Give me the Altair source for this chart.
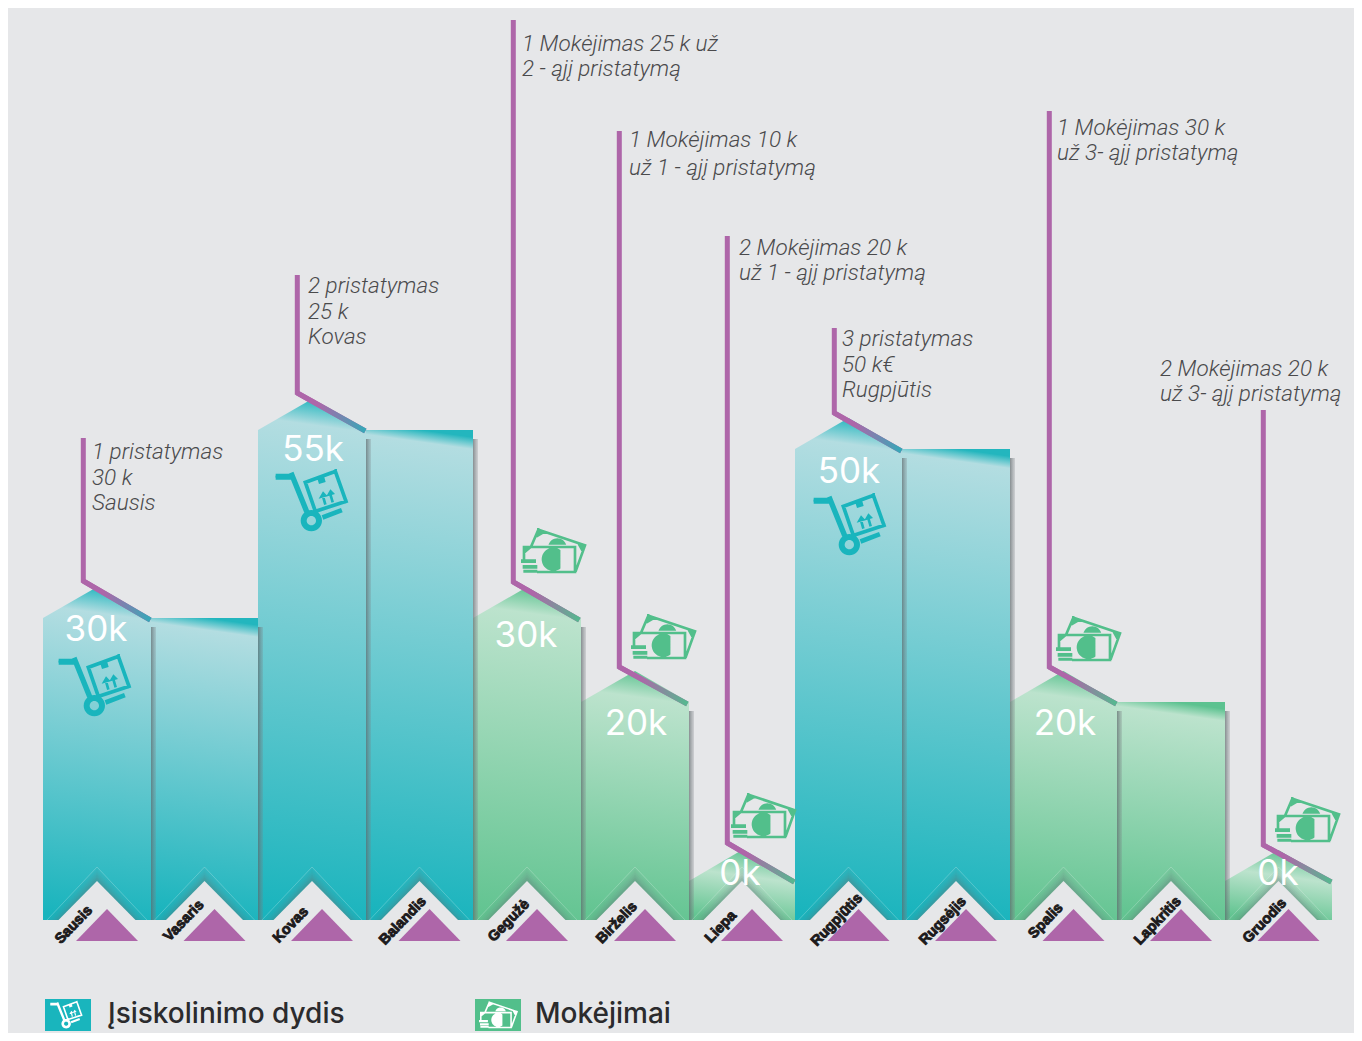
import math
import altair as alt
import pandas as pd

# ---- values ----
months = ["Sausis", "Vasaris", "Kovas", "Balandis", "Gegužė", "Birželis", "Liepa",
          "Rugpjūtis", "Rugsėjis", "Spalis", "Lapkritis", "Gruodis"]
# drawn column heights above the base line
heights = [302, 302, 490, 490, 302, 218, 39, 471, 471, 218, 218, 39]
has_peak = [True, False, True, False, True, True, True, True, False, True, False, True]
family = ["debt", "debt", "debt", "debt", "pay", "pay", "pay", "debt", "debt", "pay", "pay", "pay"]
edges_px = [43, 151, 258, 366, 473, 581, 689, 795, 902, 1010, 1117, 1225, 1332]
peak_rise = 31
labels = ["30k", "55k", "30k", "20k", "0k", "50k", "20k", "0k"]
label_px = [(96, 630), (313, 450), (526, 636), (636, 724), (740, 874), (849, 472), (1065, 724), (1278, 874)]
# callout leaders: x, top, bend, end x, end y, family
leaders = [(84, 438, 581, 151, 620, "debt"), (298, 275, 393, 366, 431, "debt"),
           (514, 20, 582, 580, 620, "pay"), (620, 131, 667, 688, 704, "pay"),
           (728, 236, 843, 795, 882, "pay"), (835, 328, 413, 902, 451, "debt"),
           (1050, 111, 667, 1117, 704, "pay"), (1264, 410, 845, 1332, 882, "pay")]
notes = [(92, 452, "1 pristatymas"), (92, 478, "30 k"), (92, 503, "Sausis"),
         (308, 286, "2 pristatymas"), (308, 312, "25 k"), (308, 337, "Kovas"),
         (522, 44, "1 Mokėjimas 25 k už"), (522, 69, "2 - ąjį pristatymą"),
         (629, 140, "1 Mokėjimas 10 k"), (629, 168, "už 1 - ąjį pristatymą"),
         (739, 248, "2 Mokėjimas 20 k"), (739, 273, "už 1 - ąjį pristatymą"),
         (842, 339, "3 pristatymas"), (842, 365, "50 k€"), (842, 390, "Rugpjūtis"),
         (1057, 128, "1 Mokėjimas 30 k"), (1057, 153, "už 3- ąjį pristatymą"),
         (1160, 369, "2 Mokėjimas 20 k"), (1160, 394, "už 3- ąjį pristatymą")]
month_label_px = [(74, 925), (184, 921), (291, 925), (403, 921), (509, 921), (617, 923),
                  (721, 927), (837, 920), (943, 921), (1046, 921), (1158, 921), (1265, 921)]
cart_px = [(94, 686), (311, 501), (849, 525)]
money_px = [(553, 551), (663, 637), (763, 816), (1088, 639), (1307, 820)]
legend_names = ["Įsiskolinimo dydis", "Mokėjimai"]

# ---- styles ----
BG = "#e6e7e9"
PURPLE = "#ae66a9"
TEAL = "#19b5bd"
GREEN = "#52bf8b"
PAL = {"debt": ("#23b6be", "#b3dde1", "#19b4bd"), "pay": ("#5cc290", "#bce3cd", "#62c491")}
END = {"debt": "#35a9b8", "pay": "#55b98f"}
BASE_PX = 920
CW = 1346
CH = 1025
X = alt.X("x:Q", scale=alt.Scale(domain=[8, 8 + CW], range=[0, CW], nice=False), axis=None)
Y = alt.Y("y:Q", scale=alt.Scale(domain=[920 - 8 - CH, 920 - 8], range=[CH, 0], nice=False), axis=None)
Y2 = alt.Y2("y2:Q")
X2 = alt.X2("x2:Q")


def h(py):
    return BASE_PX - py


layers = []


def column_gradient(fam, height, depth, width):
    dark, light, bottom = PAL[fam]
    dx = 0.14 * width / height
    return alt.Gradient(gradient="linear", x1=0.5 + dx / 2, x2=0.5 - dx / 2, y1=0, y2=1,
                        stops=[alt.GradientStop(offset=0, color=dark),
                               alt.GradientStop(offset=depth / height, color=light),
                               alt.GradientStop(offset=1, color=bottom)])


# columns
for i, m in enumerate(months):
    l, r = edges_px[i], edges_px[i + 1]
    top = heights[i]
    peak = top + peak_rise if has_peak[i] else top
    df = pd.DataFrame({"x": [l, (l + r) / 2, r], "y": [top, peak, top], "y2": [0, 0, 0]})
    g = column_gradient(family[i], peak, 26 if has_peak[i] else 12, r - l)
    layers.append(alt.Chart(df).mark_area(fill=g, line=False).encode(x=X, y=Y, y2=Y2))

# shadows between columns
for i in range(11):
    if i == 6:
        continue
    r = edges_px[i + 1]
    top = heights[i] - 9
    df = pd.DataFrame({"x": [r], "x2": [r + 5], "y": [top], "y2": [0]})
    g = alt.Gradient(gradient="linear", x1=0, x2=1, y1=0, y2=0,
                     stops=[alt.GradientStop(offset=0, color="rgba(95,105,108,0.7)"),
                            alt.GradientStop(offset=1, color="rgba(120,125,130,0.22)")])
    layers.append(alt.Chart(df).mark_rect(fill=g).encode(x=X, x2=X2, y=Y, y2=Y2))


def triangles(half, apex, cx_shift=0, floor=0):
    rows = []
    for i in range(12):
        c = (edges_px[i] + edges_px[i + 1]) / 2 + cx_shift
        for px, py in [(c - half, floor), (c, apex), (c + half, floor)]:
            rows.append({"k": i, "x": px, "y": py, "y2": floor})
    return pd.DataFrame(rows)


# soft chevrons above the notch
for half, apex, op in [(50, 53, 0.05), (47, 50, 0.06), (44.5, 47.5, 0.08), (42, 45, 0.1), (40, 42.5, 0.14)]:
    layers.append(alt.Chart(triangles(half, apex)).mark_area(color="#66757a", opacity=op, line=False)
                  .encode(x=X, y=Y, y2=Y2, detail="k:N"))
layers.append(alt.Chart(triangles(50, 53)).mark_line(color="#ffffff", opacity=0.22, strokeWidth=1)
              .encode(x=X, y=Y, detail="k:N"))
# background notch
layers.append(alt.Chart(triangles(38.5, 39)).mark_area(color=BG, line=False)
              .encode(x=X, y=Y, y2=Y2, detail="k:N"))
# purple month markers
layers.append(alt.Chart(triangles(31, 11, cx_shift=10, floor=-21)).mark_area(color=PURPLE, line=False)
              .encode(x=X, y=Y, y2=Y2, detail="k:N"))

# month names
df = pd.DataFrame({"t": months, "x": [p[0] for p in month_label_px], "y": [h(p[1]) for p in month_label_px]})
layers.append(alt.Chart(df).mark_text(font="Liberation Sans", fontWeight="bold", fontSize=14.5,
                                      angle=314, color="#1c1a1b", stroke="#1c1a1b", strokeWidth=0.9,
                                      align="center", baseline="middle")
              .encode(x=X, y=Y, text="t:N"))

# leaders
rows = []
for k, (lx, top, bend, ex, ey, fam) in enumerate(leaders):
    for s, (px, py) in enumerate([(lx, top), (lx, bend), (ex, ey)]):
        rows.append({"k": k, "s": s, "x": px - 0.7, "y": h(py)})
layers.append(alt.Chart(pd.DataFrame(rows)).mark_line(color=PURPLE, strokeWidth=5, strokeJoin="miter", strokeCap="butt")
              .encode(x=X, y=Y, detail="k:N", order="s:Q"))
for lx, top, bend, ex, ey, fam in leaders:
    df = pd.DataFrame({"s": [0, 1], "x": [lx - 0.7, ex - 0.7], "y": [h(bend), h(ey)]})
    g = alt.Gradient(gradient="linear", x1=0, x2=1, y1=0, y2=0,
                     stops=[alt.GradientStop(offset=0.3, color=PURPLE), alt.GradientStop(offset=1, color=END[fam])])
    layers.append(alt.Chart(df).mark_line(stroke=g, strokeWidth=5, strokeCap="butt")
                  .encode(x=X, y=Y, order="s:Q"))

# callout text
df = pd.DataFrame({"t": [n[2] for n in notes], "x": [n[0] for n in notes], "y": [h(n[1]) for n in notes]})
layers.append(alt.Chart(df).mark_text(font="Roboto", fontStyle="italic", fontWeight=300, fontSize=22.5, color="#4a4a4c",
                                      align="left", baseline="middle")
              .encode(x=X, y=Y, text="t:N"))


# icon geometry -------------------------------------------------------------
def area2(pts):
    return sum(pts[i][0] * pts[(i + 1) % len(pts)][1] - pts[(i + 1) % len(pts)][0] * pts[i][1] for i in range(len(pts)))


def orient(pts, positive=True):
    pts = list(pts)
    if (area2(pts) > 0) != positive:
        pts.reverse()
    return pts


def thick(p, q, w):
    dx, dy = q[0] - p[0], q[1] - p[1]
    n = math.hypot(dx, dy)
    ox, oy = -dy / n * w / 2, dx / n * w / 2
    ex, ey = dx / n * w / 2, dy / n * w / 2
    return [(p[0] + ox - ex, p[1] + oy - ey), (q[0] + ox + ex, q[1] + oy + ey),
            (q[0] - ox + ex, q[1] - oy + ey), (p[0] - ox - ex, p[1] - oy - ey)]


def circle(c, r, n=28):
    return [(c[0] + r * math.cos(2 * math.pi * a / n), c[1] + r * math.sin(2 * math.pi * a / n)) for a in range(n)]


def to_path(polys, center, half):
    out = []
    for pts, pos in polys:
        pts = orient(pts, pos)
        out.append("M" + "L".join(f"{(x - center[0]) / 3 / half:.4f},{(y - center[1]) / 3 / half:.4f}" for x, y in pts) + "Z")
    return "".join(out)


box = [(175, 293), (265, 260), (297, 350), (205, 380)]
cart_polys = [(thick((95, 276), (125, 276), 18), True), (circle((94, 276), 9), True),
              (thick((135, 272), (178, 378), 16), True),
              (circle((193, 408), 32), True), (circle((193, 408), 14), False),
              (thick((233, 396), (278, 379), 14), True)]
cart_polys += [(thick(box[i], box[(i + 1) % 4], 11), True) for i in range(4)]
cart_polys += [([(212, 285), (232, 278), (236, 292), (216, 298)], True),
               ([(228, 320), (215, 342), (242, 335)], True), (thick((229, 338), (234, 356), 8), True),
               ([(250, 314), (237, 336), (264, 328)], True), (thick((251, 332), (256, 349), 8), True)]
CART = to_path(cart_polys, (192, 349), 36)

back = [(95, 105), (115, 58), (255, 105), (228, 180)]
arc_top = [p for p in circle((172, 112), 28, 40) if p[1] < 106]
arc_top = sorted(arc_top, key=lambda p: p[0])
half_disc = [p for p in circle((160, 147), 35, 48) if p[0] < 183]
half_disc = sorted(half_disc, key=lambda p: math.atan2(p[1] - 147, p[0] - 160))
front = [(72, 145), (72, 110), (225, 110), (225, 185), (115, 185)]
money_polys = [(thick(back[i], back[i + 1], 8), True) for i in range(3)]
money_polys += [([(115, 58), (138, 66), (110, 82)], True), ([(255, 105), (230, 97), (247, 128)], True),
                (arc_top, True), (half_disc, True)]
money_polys += [(thick(front[i], front[i + 1], 8), True) for i in range(4)]
money_polys += [([(72, 110), (98, 110), (72, 132)], True),
                ([(63, 147), (108, 147), (108, 158), (63, 158)], True),
                ([(68, 164), (112, 164), (112, 175), (68, 175)], True),
                ([(70, 178), (112, 178), (112, 187), (70, 187)], True)]
MONEY = to_path(money_polys, (159, 122), 32)


def icons(pts, path, half, color):
    df = pd.DataFrame({"x": [p[0] for p in pts], "y": [h(p[1]) for p in pts]})
    return alt.Chart(df).mark_point(shape=path, filled=True, size=(2 * half) ** 2, color=color, opacity=1, strokeWidth=0).encode(x=X, y=Y)


layers.append(icons(cart_px, CART, 36, TEAL))
layers.append(icons(money_px, MONEY, 32, GREEN))

# value labels
df = pd.DataFrame({"t": labels, "x": [p[0] for p in label_px], "y": [h(p[1]) for p in label_px]})
layers.append(alt.Chart(df).mark_text(font="Inter", fontWeight=400, fontSize=35, color="#ffffff",
                                      align="center", baseline="middle")
              .encode(x=X, y=Y, text="t:N"))

# legend (lifted a little so its descenders stay inside the page)
for (l, r, col) in [(45, 91, TEAL), (475, 521, GREEN)]:
    df = pd.DataFrame({"x": [l], "x2": [r], "y": [h(999)], "y2": [h(1031)]})
    layers.append(alt.Chart(df).mark_rect(color=col).encode(x=X, x2=X2, y=Y, y2=Y2))
layers.append(icons([(66, 1015)], CART, 16, "#ffffff"))
layers.append(icons([(498, 1015)], MONEY, 19, "#ffffff"))
df = pd.DataFrame({"t": legend_names, "x": [108, 535], "y": [h(1015), h(1015)]})
layers.append(alt.Chart(df).mark_text(font="Inter", fontWeight=500, fontSize=28, color="#2b2b2d",
                                      align="left", baseline="middle")
              .encode(x=X, y=Y, text="t:N"))

chart = alt.layer(*layers).properties(
    width=CW, height=CH, background=BG,
    padding=0, autosize=alt.AutoSizeParams(type="none")
).configure_view(stroke=None)

chart.save("out.html", embed_options={"renderer": "svg", "actions": False})
